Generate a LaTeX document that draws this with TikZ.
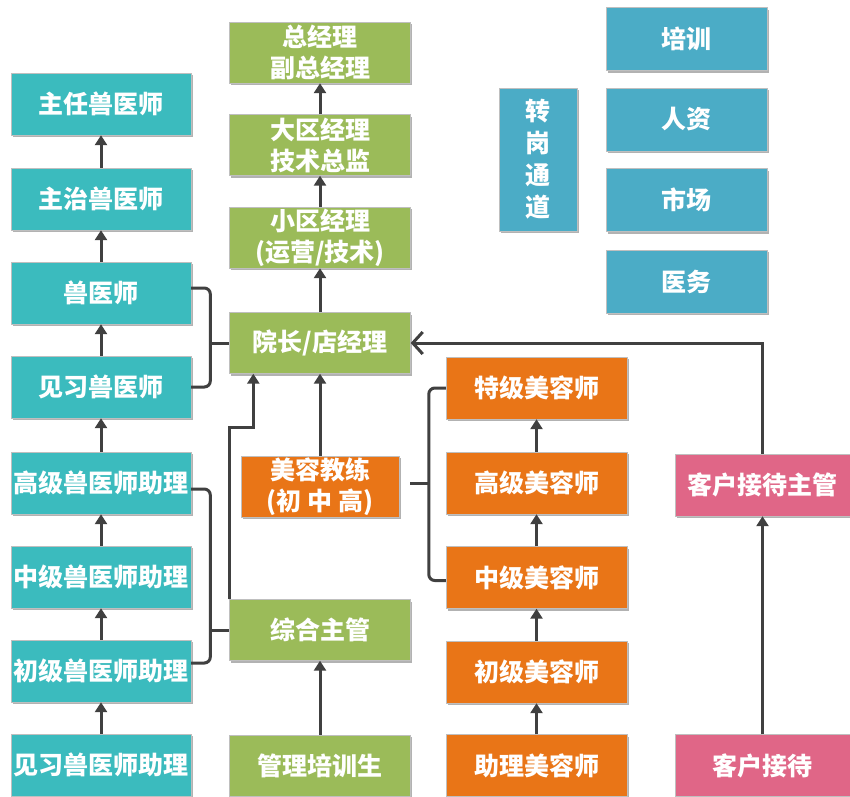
\documentclass[tikz,border=0pt]{standalone}
\usepackage{fontspec}
\setmainfont{Noto Sans CJK SC}
\usetikzlibrary{arrows.meta,shadows}
\definecolor{teal1}{HTML}{3BBBBE}
\definecolor{green1}{HTML}{9BBB59}
\definecolor{orange1}{HTML}{E97517}
\definecolor{pink1}{HTML}{E06687}
\definecolor{blue1}{HTML}{4BACC6}
\definecolor{line1}{HTML}{404040}
\begin{document}
\begin{tikzpicture}[x=1pt,y=-1pt,
  box/.style={draw=black!25,line width=0.4pt,inner sep=0pt,text=white,align=center,
    font=\fontsize{25}{31}\selectfont\bfseries,
    drop shadow={shadow xshift=1.5pt,shadow yshift=-2pt,opacity=0.3,fill=black}},
  tealbox/.style={box,fill=teal1,minimum width=180pt,minimum height=62pt},
  greenbox/.style={box,fill=green1,minimum width=181pt,minimum height=61pt},
  orangebox/.style={box,fill=orange1,minimum width=181pt,minimum height=62pt},
  pinkbox/.style={box,fill=pink1,minimum width=175pt,minimum height=62pt},
  bluebox/.style={box,fill=blue1,minimum width=161pt,minimum height=63pt},
  conn/.style={draw=line1,line width=3pt},
  up/.style={conn,-{Triangle[length=10pt,width=12pt]}},
  open/.style={conn,-{Straight Barb[length=10pt,width=22pt]}}
]
\useasboundingbox (0,0) rectangle (850,796);
\fill[white] (0,0) rectangle (850,796);

% left column
\node[tealbox] (zr) at (101,104) {主任兽医师};
\node[tealbox] (zz) at (101,199) {主治兽医师};
\node[tealbox] (sy) at (101,293) {兽医师};
\node[tealbox] (jxs) at (101,387) {见习兽医师};
\node[tealbox] (gz) at (101,483) {高级兽医师助理};
\node[tealbox] (mz) at (101,577) {中级兽医师助理};
\node[tealbox] (cz) at (101,671) {初级兽医师助理};
\node[tealbox] (jz) at (101,765) {见习兽医师助理};

% green column
\node[greenbox] (zjl) at (320,52.5) {总经理\\副总经理};
\node[greenbox] (dq) at (320,145) {大区经理\\技术总监};
\node[greenbox] (xq) at (320,237.5) {小区经理\\(运营/技术)};
\node[greenbox] (yz) at (320,343) {院长/店经理};
\node[box,fill=orange1,minimum width=158pt,minimum height=61pt] (mr) at (320,486.5) {美容教练\\(初 中 高)};
\node[greenbox] (zh) at (320,630) {综合主管};
\node[greenbox] (gl) at (320,765.5) {管理培训生};

% orange column
\node[orangebox] (tj) at (536.5,388) {特级美容师};
\node[orangebox] (gj) at (536.5,483) {高级美容师};
\node[orangebox] (zj) at (536.5,577.5) {中级美容师};
\node[orangebox] (cj) at (536.5,672) {初级美容师};
\node[orangebox] (zl) at (536.5,765.5) {助理美容师};

% pink
\node[pinkbox] (kz) at (762.5,485) {客户接待主管};
\node[pinkbox] (kd) at (762.5,765.5) {客户接待};

% blue
\node[bluebox] (px) at (686.5,39) {培训};
\node[bluebox] (rz) at (686.5,119.5) {人资};
\node[bluebox] (sc) at (686.5,200) {市场};
\node[bluebox] (yw) at (686.5,281.5) {医务};
\node[box,fill=blue1,minimum width=78pt,minimum height=143pt,font=\fontsize{25}{32}\selectfont\bfseries] (zg) at (538,159.5) {转\\岗\\通\\道};

% left column arrows
\draw[up] (zz) -- (zr);
\draw[up] (sy) -- (zz);
\draw[up] (jxs) -- (sy);
\draw[up] (gz) -- (jxs);
\draw[up] (mz) -- (gz);
\draw[up] (cz) -- (mz);
\draw[up] (jz) -- (cz);

% green arrows
\draw[up] (dq) -- (zjl);
\draw[up] (xq) -- (dq);
\draw[up] (yz) -- (xq);
\draw[up] (mr) -- (yz);
\draw[up] (gl) -- (zh);

% orange arrows
\draw[up] (gj) -- (tj);
\draw[up] (zj) -- (gj);
\draw[up] (cj) -- (zj);
\draw[up] (zl) -- (cj);

% pink
\draw[up] (kd) -- (kz);
\draw[open] (kz.north) |- (yz.east);

% brackets
\draw[conn,rounded corners=6pt] ([yshift=5pt]sy.east) -| ([xshift=-19pt]yz.west) |- (jxs.east);
\draw[conn] ([xshift=-19pt]yz.west) -- (yz.west);
\draw[conn,rounded corners=6pt] ([yshift=-6pt]gz.east) -| ([xshift=-19pt]zh.west) |- ([yshift=8pt]cz.east);
\draw[conn] ([xshift=-19pt]zh.west) -- (zh.west);
\draw[conn,rounded corners=6pt] (tj.west) -| ([xshift=-17pt]gj.west) |- ([yshift=-3pt]zj.west);
\draw[conn] ([xshift=-17pt]gj.west) -- ([xshift=11pt]mr.east |- gj.west);

% 综合主管 to 院长
\draw[up] (zh.north west) -- ++(0,-172) -| ([xshift=24pt]yz.south west);
\end{tikzpicture}
\end{document}
